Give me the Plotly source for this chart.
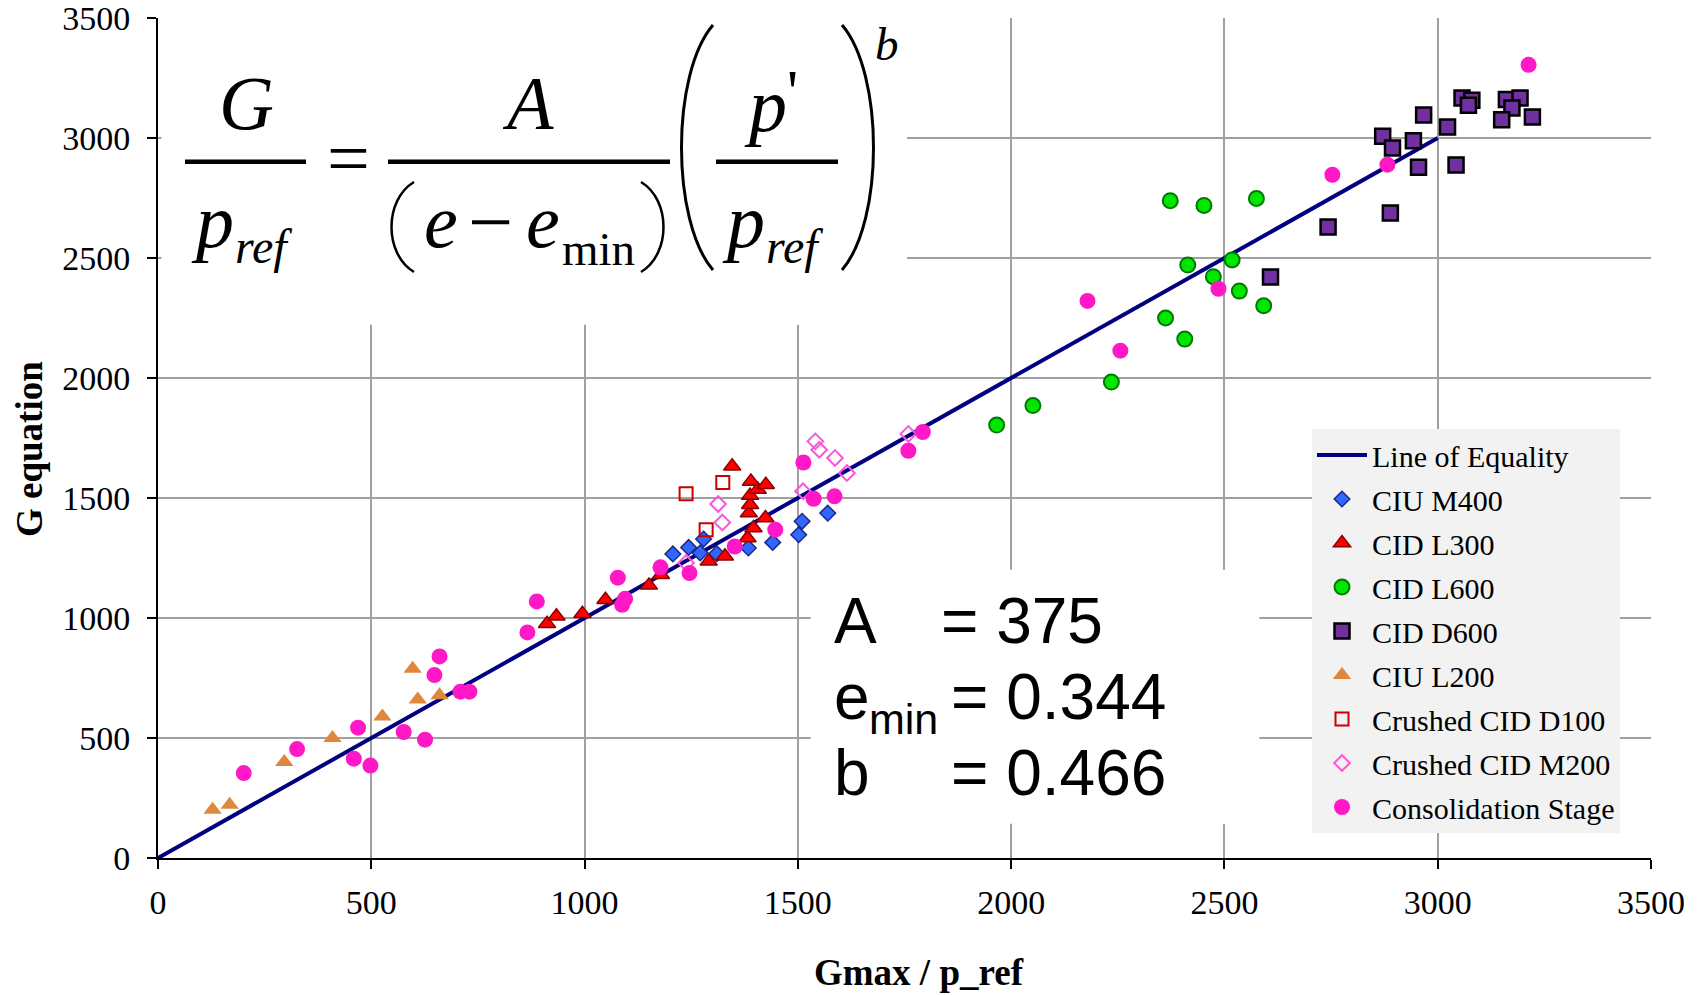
import plotly.graph_objects as go

# ---- data -------------------------------------------------------------
line_x = [0, 3000]
line_y = [0, 3000]

ciu_m400_x = [1207, 1244, 1271, 1279, 1310, 1384, 1441, 1502, 1510, 1570]
ciu_m400_y = [1267, 1294, 1271, 1329, 1268, 1292, 1315, 1347, 1403, 1437]

cid_l300_x = [912, 934, 995, 1049, 1151, 1179, 1291, 1329, 1346, 1382, 1396,
              1424, 1385, 1388, 1388, 1406, 1390, 1425]
cid_l300_y = [976, 1007, 1018, 1076, 1136, 1180, 1236, 1257, 1632, 1333, 1375,
              1417, 1437, 1472, 1510, 1535, 1569, 1555]

cid_l600_x = [1966, 2051, 2235, 2362, 2407, 2414, 2474, 2518, 2535, 2592,
              2373, 2452, 2575]
cid_l600_y = [1804, 1885, 1983, 2250, 2162, 2471, 2422, 2492, 2362, 2301,
              2739, 2719, 2748]

cid_d600_x = [2608, 2743, 2889, 2871, 2894, 2943, 2955, 2967, 3023, 3043,
              3057, 3080, 3072, 3161, 3193, 3174, 3150, 3222]
cid_d600_y = [2421, 2629, 2687, 3007, 2958, 2989, 2878, 3096, 3046, 2888,
              3167, 3157, 3136, 3160, 3167, 3125, 3076, 3088]

ciu_l200_x = [128, 168, 296, 409, 526, 597, 609, 660]
ciu_l200_y = [201, 222, 400, 500, 590, 789, 660, 678]

crushed_d100_x = [1238, 1324, 1285]
crushed_d100_y = [1518, 1565, 1368]

crushed_m200_x = [1238, 1313, 1323, 1512, 1541, 1550, 1587, 1615, 1759]
crushed_m200_y = [1229, 1475, 1398, 1528, 1736, 1701, 1667, 1604, 1767]

consol_x = [201, 326, 459, 469, 498, 576, 626, 648, 660, 709, 730, 866, 888,
            1078, 1088, 1095, 1178, 1246, 1352, 1447, 1513, 1537, 1586, 1759,
            1793, 2179, 2256, 2486, 2753, 2882, 3213]
consol_y = [354, 454, 414, 543, 385, 525, 493, 762, 840, 693, 693, 940, 1069,
            1168, 1055, 1080, 1211, 1187, 1298, 1368, 1648, 1497, 1507, 1697,
            1775, 2321, 2114, 2372, 2847, 2889, 3305]

tick_vals = [0, 500, 1000, 1500, 2000, 2500, 3000, 3500]
tick_text = [str(v) for v in tick_vals]

param_names = ["A", "e", "b"]
param_values = ["375", "0.344", "0.466"]

# ---- page geometry (pixels) -------------------------------------------
W, H = 1698, 995
L, R, T, B = 158, 1651, 18, 858


def px(x):
    return (x - L) / (R - L)


def py(y):
    return (B - y) / (B - T)


SERIF = "Liberation Serif"
SANS = "Liberation Sans"

fig = go.Figure()

fig.add_trace(go.Scatter(x=line_x, y=line_y, mode="lines", name="Line of Equality",
                         line=dict(color="#000080", width=4), legendgroup="g0"))

series = [
    ("CIU M400", ciu_m400_x, ciu_m400_y,
     dict(symbol="diamond", size=12, color="#3366ff", line=dict(color="#1a2a8a", width=1.5))),
    ("CID L300", cid_l300_x, cid_l300_y,
     dict(symbol="triangle-up", size=15, color="#ff0000", line=dict(color="#8b0000", width=1.5))),
    ("CID L600", cid_l600_x, cid_l600_y,
     dict(symbol="circle", size=15, color="#00e600", line=dict(color="#007a00", width=2))),
    ("CID D600", cid_d600_x, cid_d600_y,
     dict(symbol="square", size=15, color="#7030a0", line=dict(color="#000000", width=2.5))),
    ("CIU L200", ciu_l200_x, ciu_l200_y,
     dict(symbol="triangle-up", size=16, color="#e0873e", line=dict(width=0))),
    ("Crushed CID D100", crushed_d100_x, crushed_d100_y,
     dict(symbol="square-open", size=13, color="#cc0000", line=dict(width=2))),
    ("Crushed CID M200", crushed_m200_x, crushed_m200_y,
     dict(symbol="diamond-open", size=12, color="#ff55dd", line=dict(width=2))),
    ("Consolidation Stage", consol_x, consol_y,
     dict(symbol="circle", size=16, color="#ff19c6", line=dict(width=0))),
]
for i, (name, xs, ys, mk) in enumerate(series):
    fig.add_trace(go.Scatter(x=xs, y=ys, mode="markers", name=name, marker=mk,
                             legendgroup="g%d" % (i + 1)))

# white panels behind the formula and the parameter block (above the grid)
fig.add_shape(type="rect", xref="x", yref="y", x0=8, x1=1756, y0=2222, y1=3560,
              fillcolor="white", line=dict(width=0), layer="between")
fig.add_shape(type="rect", xref="x", yref="y", x0=1530, x1=2582, y0=143, y1=1201,
              fillcolor="white", line=dict(width=0), layer="between")


def text_at(text, x, base, fs, family=SERIF, anchor="center"):
    k = 0.3375 if family == SERIF else 0.3465
    fig.add_annotation(text=text, x=px(x), y=py(base - k * fs), xref="paper", yref="paper",
                       xanchor=anchor, yanchor="middle", showarrow=False,
                       font=dict(family=family, size=fs, color="black"))


def hline(x0, x1, y, w=4.5):
    fig.add_shape(type="line", xref="paper", yref="paper", x0=px(x0), x1=px(x1),
                  y0=py(y), y1=py(y), line=dict(color="black", width=w))


def paren(xe, xm, y0, y1, w=3):
    ya = y0 + (y1 - y0) * 0.2
    yb = y0 + (y1 - y0) * 0.8
    path = "M %.5f,%.5f C %.5f,%.5f %.5f,%.5f %.5f,%.5f" % (
        px(xe), py(y0), px(xm), py(ya), px(xm), py(yb), px(xe), py(y1))
    fig.add_shape(type="path", xref="paper", yref="paper", path=path,
                  line=dict(color="black", width=w))


# G / p_ref
text_at("<i>G</i>", 246, 129, 76)
hline(185, 306, 161.7)
text_at("<i>p</i>", 212, 246.5, 76)
text_at("<i>ref</i>", 233, 263, 48, anchor="left")
# =
text_at("=", 348, 184, 76)
# A / (e - e_min)
text_at("<i>A</i>", 528, 129, 76)
hline(388, 670, 161.7)
paren(414, 384, 182, 272, w=2.5)
text_at("<i>e</i>", 441, 247, 76)
text_at("\u2212", 490, 249, 80)
text_at("<i>e</i>", 543, 247, 76)
text_at("min", 560, 265, 47, anchor="left")
paren(641, 671, 182, 272, w=2.5)
# ( p' / p_ref )^b
paren(713, 671, 25, 270)
text_at("<i>p</i>", 765, 130.5, 76)
text_at("'", 792, 112, 62)
hline(716, 838, 161.7)
text_at("<i>p</i>", 743, 246.5, 76)
text_at("<i>ref</i>", 764, 263, 48, anchor="left")
paren(842, 884, 25, 270)
text_at("<i>b</i>", 887, 60, 47)

# parameter block
rows_base = [643, 719, 795]
text_at(param_names[0], 832, rows_base[0], 64, family=SANS, anchor="left")
text_at(param_names[1], 832, rows_base[1], 64, family=SANS, anchor="left")
text_at("min", 867, rows_base[1] + 15, 43, family=SANS, anchor="left")
text_at(param_names[2], 832, rows_base[2], 64, family=SANS, anchor="left")
text_at("= " + param_values[0], 939, rows_base[0], 64, family=SANS, anchor="left")
text_at("= " + param_values[1], 949, rows_base[1], 64, family=SANS, anchor="left")
text_at("= " + param_values[2], 949, rows_base[2], 64, family=SANS, anchor="left")

# axis titles
fig.add_annotation(text="<b>Gmax / p_ref</b>", x=px(919), y=py(972), xref="paper", yref="paper",
                   xanchor="center", yanchor="middle", showarrow=False,
                   font=dict(family=SERIF, size=37, color="black"))
fig.add_annotation(text="<b>G equation</b>", x=px(30), y=py(449), xref="paper", yref="paper",
                   xanchor="center", yanchor="middle", showarrow=False, textangle=-90,
                   font=dict(family=SERIF, size=37, color="black"))

axis_common = dict(
    range=[0, 3500], tickmode="array", tickvals=tick_vals, ticktext=tick_text,
    showgrid=True, gridcolor="#a0a0a0", gridwidth=2, zeroline=False,
    showline=True, linecolor="black", linewidth=2, automargin=False,
    ticks="outside", ticklen=9, tickwidth=2, tickcolor="black",
    ticklabeloverflow="allow",
    tickfont=dict(family=SERIF, size=34, color="black"),
)
fig.update_xaxes(**axis_common, ticklabelstandoff=4)
fig.update_yaxes(**axis_common, ticklabelstandoff=10)

fig.update_layout(
    width=W, height=H,
    margin=dict(l=L, r=W - R, t=T, b=H - B, autoexpand=False),
    paper_bgcolor="white", plot_bgcolor="white",
    showlegend=True,
    legend=dict(x=px(1312), y=py(429), xanchor="left", yanchor="top",
                bgcolor="#f2f2f2", borderwidth=0, tracegroupgap=2,
                traceorder="grouped", itemwidth=50,
                font=dict(family=SERIF, size=30, color="black")),
)

fig.write_html("out.html")
